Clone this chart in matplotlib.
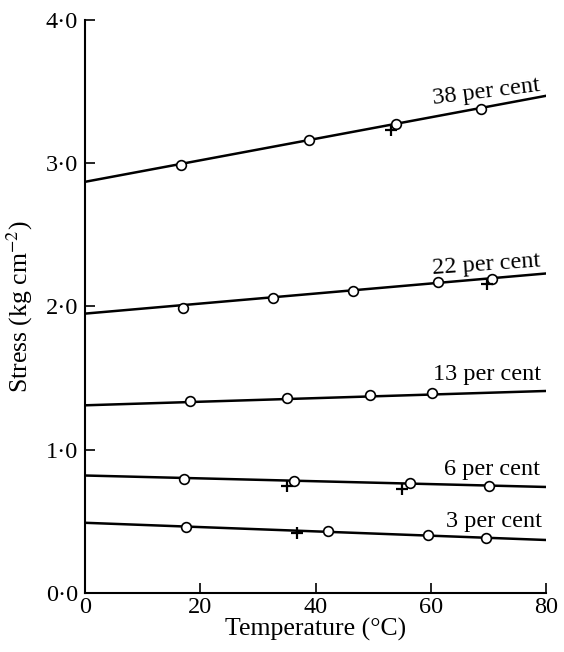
import matplotlib.pyplot as plt
import numpy as np

plt.rcParams['font.family'] = ['Liberation Serif', 'DejaVu Serif']
plt.rcParams['mathtext.fontset'] = 'stix'

# fitted lines: stress at 0 and 80 degC
labels = ['38 per cent', '22 per cent', '13 per cent', '6 per cent', '3 per cent']
line_t = [0, 80]
line_38 = [2.87, 3.47]
line_22 = [1.95, 2.23]
line_13 = [1.31, 1.41]
line_6 = [0.82, 0.74]
line_3 = [0.49, 0.37]

# open circles
t_38 = [16.7, 38.9, 54.0, 68.8]
s_38 = [2.99, 3.16, 3.27, 3.38]
t_22 = [17.0, 32.6, 46.5, 61.3, 70.7]
s_22 = [1.99, 2.06, 2.11, 2.17, 2.19]
t_13 = [18.2, 35.0, 49.5, 60.2]
s_13 = [1.34, 1.36, 1.38, 1.395]
t_6 = [17.2, 36.2, 56.4, 70.1]
s_6 = [0.795, 0.785, 0.765, 0.75]
t_3 = [17.5, 42.2, 59.5, 69.6]
s_3 = [0.46, 0.43, 0.405, 0.385]

# crosses
pt_38 = [53.1]
ps_38 = [3.23]
pt_22 = [69.8]
ps_22 = [2.16]
pt_6 = [35.1, 55.0]
ps_6 = [0.745, 0.725]
pt_3 = [36.8]
ps_3 = [0.42]

xticks = [0, 20, 40, 60, 80]
yticks = [0, 1, 2, 3, 4]
ytick_labels = ['0·0', '1·0', '2·0', '3·0', '4·0']

fig = plt.figure(figsize=(5.64, 6.52), dpi=100)
ax = fig.add_axes([0.151, 0.0905, 0.817, 0.879])

lines = [line_38, line_22, line_13, line_6, line_3]
circ = [(t_38, s_38), (t_22, s_22), (t_13, s_13), (t_6, s_6), (t_3, s_3)]
plus = [(pt_38, ps_38), (pt_22, ps_22), (pt_6, ps_6), (pt_3, ps_3)]

for ln in lines:
    ax.plot(line_t, ln, '-', color='black', linewidth=1.8, zorder=2)
for t, s in circ:
    ax.plot(t, s, 'o', markersize=7, markerfacecolor='white',
            markeredgecolor='black', markeredgewidth=1.2, zorder=3)
for t, s in plus:
    ax.plot(t, s, '+', markersize=8, color='black', markeredgewidth=1.6, zorder=4)

# curve labels (x, y of baseline centre, rotation)
label_pos = [(69.8, 3.46, 7), (69.8, 2.25, 4), (69.8, 1.49, 0),
             (70.7, 0.825, 0), (71.0, 0.458, 0)]
for lab, (x, y, rot) in zip(labels, label_pos):
    ax.text(x, y, lab, ha='center', va='baseline', fontsize=17.5,
            rotation=rot, rotation_mode='anchor')

ax.set_xlim(0, 80)
ax.set_ylim(0, 4)
ax.set_xticks(xticks)
ax.set_xticklabels([str(v) for v in xticks])
ax.set_yticks(yticks)
ax.set_yticklabels(ytick_labels)
ax.tick_params(direction='in', length=7, width=1.2, labelsize=17.5)
ax.tick_params(axis='x', pad=3)
ax.tick_params(axis='y', pad=5)
ax.spines['top'].set_visible(False)
ax.spines['right'].set_visible(False)
ax.spines['left'].set_linewidth(1.5)
ax.spines['bottom'].set_linewidth(1.5)

ax.set_xlabel('Temperature (°C)', fontsize=18.5, labelpad=0)
ax.set_ylabel('Stress (kg cm$^{-2}$)', fontsize=18.5, labelpad=8)

fig.savefig('out.png', dpi=100)
